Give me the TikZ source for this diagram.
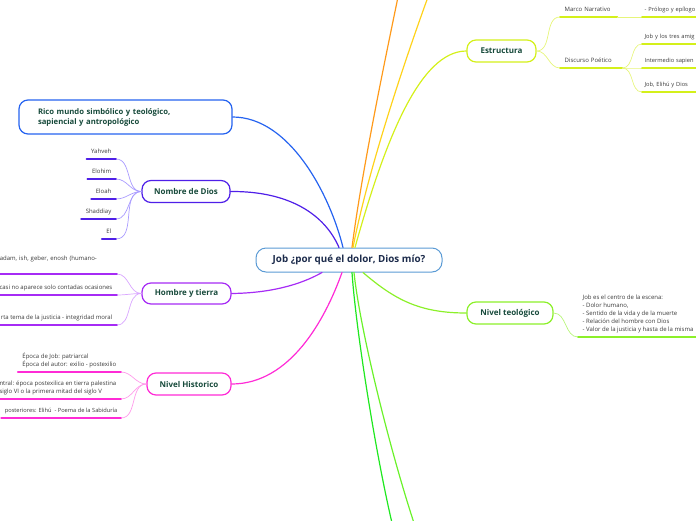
\documentclass[tikz,border=0pt]{standalone}
\usepackage{fontspec}
\setmainfont{Open Sans}

\definecolor{jobborde}{HTML}{5B9BD5}
\definecolor{jobtexto}{HTML}{1C2B4B}
\definecolor{ramatexto}{HTML}{174A3B}
\definecolor{hojatexto}{HTML}{3A3A3A}
\definecolor{azulrico}{HTML}{2563F0}
\definecolor{violdios}{HTML}{4F1FE8}
\definecolor{violdiosc}{HTML}{A99BFF}
\definecolor{purhombre}{HTML}{A62BF5}
\definecolor{purhombrec}{HTML}{D9A6FF}
\definecolor{maghist}{HTML}{FF2BD6}
\definecolor{maghistc}{HTML}{FF9BEB}
\definecolor{limaestr}{HTML}{D4F01A}
\definecolor{limaestrc}{HTML}{E6F57A}
\definecolor{verdeteo}{HTML}{8CF02A}
\definecolor{verdeteoc}{HTML}{B8F57A}
\definecolor{naranja}{HTML}{FF9A1A}
\definecolor{amarillo}{HTML}{FFD21A}
\definecolor{verdeuno}{HTML}{1FE81F}
\definecolor{verdedos}{HTML}{6AF22A}

\tikzset{
  rama/.style={draw, rounded corners=9pt, line width=1.2pt, fill=white,
    text=ramatexto, font=\bfseries\fontsize{8}{10}\selectfont,
    minimum height=22pt},
  hoja/.style={inner xsep=4.5pt, inner ysep=3.5pt,
    text=hojatexto, font=\fontsize{6}{8.2}\selectfont},
  hojaborde/.style={hoja, text depth=1.5pt, anchor=south west, inner xsep=2.5pt,
    text width=70pt, align=left, font=\fontsize{5.7}{8.2}\selectfont},
  conexion/.style={line width=1.2pt},
  subrayado/.style={line width=1.6pt},
  fina/.style={line width=0.7pt}
}

\begin{document}
\begin{tikzpicture}[x=1pt,y=-1pt,line cap=round,line join=round]
  \useasboundingbox (0,0) rectangle (696,520);
  \clip (0,0) rectangle (696,520);

  % Idea central
  \node[draw=jobborde, rounded corners=10pt, line width=1pt, fill=white,
    text=jobtexto, font=\bfseries\fontsize{9.8}{11}\selectfont,
    minimum width=186pt, minimum height=24pt] (job) at (349,260)
    {Job ¿por qué el dolor, Dios mío?};

  % Ramas principales
  \node[rama, draw=azulrico, minimum width=213pt, minimum height=34pt,
    text width=175pt, inner xsep=19pt, align=left,
    font=\bfseries\fontsize{7.7}{10}\selectfont] (rico) at (125.5,117)
    {Rico mundo simbólico y teológico,\\sapiencial y antropológico};
  \node[rama, draw=violdios, minimum width=88pt] (dios) at (186,191.5) {Nombre de Dios};
  \node[rama, draw=purhombre, minimum width=89pt, minimum height=21pt] (hombre) at (186.5,293.5) {Hombre y tierra};
  \node[rama, draw=maghist, minimum width=84pt] (historico) at (189,384) {Nivel Historico};
  \node[rama, draw=limaestr, minimum width=69pt] (estructura) at (501.5,51) {Estructura};
  \node[rama, draw=verdeteo, minimum width=86pt] (teologico) at (510,313) {Nivel teológico};

  % Ramas que salen del cuadro
  \coordinate (finnaranja) at (398,-3);
  \coordinate (finamarillo) at (428,-3);
  \coordinate (finverdeuno) at (392,523);
  \coordinate (finverdedos) at (414,523);

  % Conexiones con la idea central
  \draw[conexion, azulrico] (rico.east) .. controls (290,117) and (330,195) .. ([xshift=-6pt]job.north);
  \draw[conexion, violdios] (dios.east) .. controls (290,191) and (325,215) .. ([xshift=-10pt]job.north);
  \draw[conexion, purhombre] (hombre.east) .. controls (270,293) and (300,285) .. ([xshift=-27pt]job.south);
  \draw[conexion, maghist] (historico.east) .. controls (290,384) and (325,320) .. ([xshift=-7pt]job.south);
  \draw[conexion, naranja] ([xshift=3pt]job.north) .. controls (362,170) and (385,60) .. (finnaranja);
  \draw[conexion, amarillo] ([xshift=4pt]job.north) .. controls (368,170) and (405,60) .. (finamarillo);
  \draw[conexion, limaestr] ([xshift=6pt]job.north) .. controls (385,140) and (420,51) .. (estructura.west);
  \draw[conexion, verdeteo] ([xshift=14pt]job.south) .. controls (395,300) and (420,313) .. (teologico.west);
  \draw[conexion, verdeuno] ([xshift=3pt]job.south) .. controls (356,330) and (375,450) .. (finverdeuno);
  \draw[conexion, verdedos] ([xshift=5pt]job.south) .. controls (360,330) and (390,450) .. (finverdedos);

  % Nombre de Dios
  \node[hoja, text depth=1.5pt, anchor=south east] (yahveh) at (116,159) {Yahveh};
  \node[hoja, text depth=1.5pt, anchor=south east] (elohim) at (116,179) {Elohim};
  \node[hoja, text depth=1.5pt, anchor=south east] (eloah) at (116,199) {Eloah};
  \node[hoja, text depth=1.5pt, anchor=south east] (shaddiay) at (116,219) {Shaddiay};
  \node[hoja, text depth=1.5pt, anchor=south east] (el) at (116,239) {El};
  \foreach \h in {yahveh,elohim,eloah,shaddiay,el} {
    \draw[fina, violdiosc] (dios.west) to[out=180,in=0] (\h.south east);
    \draw[subrayado, violdios] (\h.south west) -- (\h.south east);
  }

  % Hombre y tierra
  \node[hoja, anchor=south east, text width=112.5pt, align=left, text depth=9.5pt] (adam) at (117,274)
    {adam, ish, geber, enosh (humano-};
  \node[hoja, text depth=1.5pt, anchor=south east] (casi) at (117,295) {casi no aparece solo contadas ocasiones};
  \node[hoja, text depth=1.5pt, anchor=south east] (justicia) at (117,325) {rta tema de la justicia - integridad moral};
  \foreach \h in {adam,casi,justicia} {
    \draw[fina, purhombrec] (hombre.west) to[out=180,in=0] (\h.south east);
    \draw[subrayado, purhombre] (\h.south west) -- (\h.south east);
  }

  % Nivel Historico
  \node[hoja, anchor=south east, align=left] (epoca) at (121,372)
    {Época de Job: patriarcal\\Época del autor: exilio - postexilio};
  \node[hoja, anchor=south east, align=left] (central) at (121,399)
    {ntral: época postexilica en tierra palestina\\siglo VI o la primera mitad del siglo V};
  \node[hoja, text depth=1.5pt, anchor=south east, inner xsep=3.5pt,
    font=\fontsize{5.7}{8.2}\selectfont] (posteriores) at (121,418)
    {posteriores: Elihú \ - Poema de la Sabiduría};
  \foreach \h in {epoca,central,posteriores} {
    \draw[fina, maghistc] (historico.west) to[out=180,in=0] (\h.south east);
    \draw[subrayado, maghist] (\h.south west) -- (\h.south east);
  }

  % Estructura
  \node[hoja, text depth=1.5pt, anchor=south west, minimum width=57pt, text width=48pt, align=left] (marco) at (560,17) {Marco Narrativo};
  \node[hoja, text depth=1.5pt, anchor=south west, minimum width=62pt, text width=53pt, align=left] (discurso) at (560,68) {Discurso Poético};
  \node[hojaborde] (prologo) at (642,17) {- Prólogo y epílogo};
  \node[hojaborde] (amigos) at (642,44) {Job y los tres amig};
  \node[hojaborde] (sapiencial) at (642,68) {Intermedio sapien};
  \node[hojaborde] (elihu) at (642,92) {Job, Elihú y Dios};
  \foreach \h in {marco,discurso} {
    \draw[fina, limaestrc] (estructura.east) to[out=0,in=180] (\h.south west);
    \draw[subrayado, limaestr] (\h.south west) -- (\h.south east);
  }
  \draw[fina, limaestrc] (marco.south east) -- (prologo.south west);
  \foreach \h in {amigos,sapiencial,elihu} {
    \draw[fina, limaestrc] (discurso.south east) to[out=0,in=180] (\h.south west);
  }
  \foreach \h in {prologo,amigos,sapiencial,elihu} {
    \draw[subrayado, limaestr] (\h.south west) -- (\h.south east);
  }

  % Nivel teológico
  \node[hoja, anchor=south west, align=left] (escena) at (578,337)
    {Job es el centro de la escena:\\- Dolor humano,\\- Sentido de la vida y de la muerte\\- Relación del hombre con Dios\\- Valor de la justicia y hasta de la misma};
  \draw[fina, verdeteoc] (teologico.east) to[out=0,in=180] (escena.south west);
  \draw[subrayado, verdeteo] (escena.south west) -- ([xshift=12pt]escena.south east);
\end{tikzpicture}
\end{document}
